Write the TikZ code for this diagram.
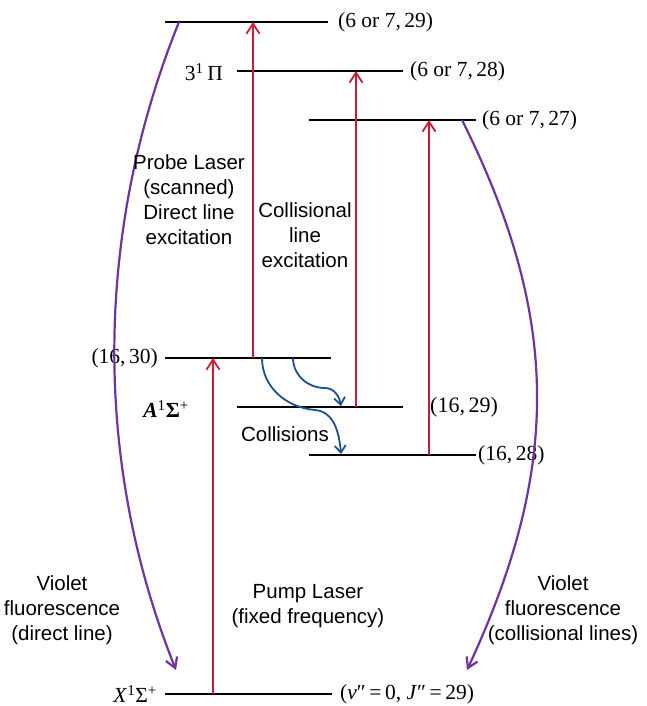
\documentclass[tikz,border=0pt]{standalone}
\usepackage{fontspec}
\setmainfont{Liberation Serif}
\setsansfont{Liberation Sans}
\usetikzlibrary{arrows.meta}
\definecolor{laser}{RGB}{200,30,45}
\definecolor{violet}{RGB}{112,50,160}
\definecolor{collblue}{RGB}{30,80,140}
\tikzset{
  level/.style={line width=1.8pt},
  thicklevel/.style={line width=2.6pt},
  laserarrow/.style={draw=laser, line width=1.8pt, -{Straight Barb[length=10pt,width=13pt,line width=1.8pt]}},
  fluor/.style={draw=violet, line width=2.2pt, -{Straight Barb[length=10pt,width=12pt,line width=2.2pt]}},
  coll/.style={draw=collblue, line width=1.8pt, -{Straight Barb[length=7pt,width=11pt,line width=1.8pt]}},
  qlabel/.style={font=\fontsize{21.5}{24}\selectfont, inner sep=0pt},
  txt/.style={font=\sffamily\fontsize{20.5}{25}\selectfont, align=center, inner sep=0pt},
}
\begin{document}
\begin{tikzpicture}[x=1pt,y=-1pt]
\useasboundingbox (0,0) rectangle (647,706);
% level end points
\coordinate (u29L) at (165,22);  \coordinate (u29R) at (328,22);
\coordinate (u28L) at (237,71);  \coordinate (u28R) at (403,71);
\coordinate (u27L) at (309,120); \coordinate (u27R) at (476,120);
\coordinate (a30L) at (165,358); \coordinate (a30R) at (331,358);
\coordinate (a29L) at (237,407); \coordinate (a29R) at (403,407);
\coordinate (a28L) at (309,455); \coordinate (a28R) at (476,455);
\coordinate (xL) at (165,694);   \coordinate (xR) at (332,694);
\draw[level] (u29L) -- (u29R);
\draw[level] (u28L) -- (u28R);
\draw[level] (u27L) -- (u27R);
\draw[level] (a30L) -- (a30R);
\draw[thicklevel] (a29L) -- (a29R);
\draw[level] (a28L) -- (a28R);
\draw[level] (xL) -- (xR);
% labels
\node[qlabel, anchor=west] (l29) at (338,22) {(6 or 7,\,29)};
\node[qlabel, anchor=west] (l28) at (410,71) {(6 or 7,\,28)};
\node[qlabel, anchor=west] (l27) at (482,120) {(6 or 7,\,27)};
\node[qlabel, anchor=east] (pi) at (223,72) {3\textsuperscript{1}\,Π};
\node[qlabel, anchor=east] (l30) at (158,358) {(16,\,30)};
\node[qlabel, anchor=east] (asig) at (189,409) {\textbf{\textit{A}}\textsuperscript{1}\textbf{Σ}\textsuperscript{+}};
\node[qlabel, anchor=west, font=\fontsize{22}{24}\selectfont] (l1629) at (430,407) {(16,\,29)};
\node[qlabel, anchor=west] (l1628) at (478,455) {(16,\,28)};
\node[qlabel, anchor=east] (xsig) at (157,694) {\textit{X}\textsuperscript{1}Σ\textsuperscript{+}};
\node[qlabel, anchor=west] (lx) at (340,694) {(\textit{v}″\,=\,0, \textit{J}″\,=\,29)};
% laser arrows
\coordinate (pumpB) at (213,694); \coordinate (pumpT) at (213,358);
\coordinate (probeB) at (253,358); \coordinate (probeT) at (253,22);
\coordinate (c1B) at (356,407); \coordinate (c1T) at (356,71);
\coordinate (c2B) at (429,455); \coordinate (c2T) at (429,120);
\draw[laserarrow] (pumpB) -- (pumpT);
\draw[laserarrow] (probeB) -- (probeT);
\draw[laserarrow] (c1B) -- (c1T);
\draw[laserarrow] (c2B) -- (c2T);
% collision arrows
\coordinate (k1S) at (262,358); \coordinate (k1M) at (315,410); \coordinate (k1E) at (341,454);
\coordinate (k2S) at (293,358); \coordinate (k2M) at (325,388); \coordinate (k2E) at (341,406);
\draw[coll] (k1S) to[out=-90,in=175] (k1M) to[out=-5,in=95] (k1E);
\draw[coll] (k2S) to[out=-90,in=180] (k2M) to[out=0,in=100] (k2E);
% fluorescence arrows
\coordinate (f1S) at (179,22); \coordinate (f1E) at (176,670);
\coordinate (f2S) at (462,120); \coordinate (f2E) at (467,670);
\draw[fluor] (f1S) .. controls (95,230) and (92,460) .. (f1E);
\draw[fluor] (f2S) .. controls (562,320) and (560,470) .. (f2E);
% texts
\node[txt] (probe) at (189,200) {Probe Laser\\(scanned)\\Direct line\\excitation};
\node[txt] (collx) at (305,235) {Collisional\\line\\excitation};
\node[txt] (colls) at (285,434) {Collisions};
\node[txt] (pump) at (308,606) {Pump Laser\\(fixed frequency)};
\node[txt] (vl) at (62,610) {Violet\\fluorescence\\(direct line)};
\node[txt] (vr) at (563,610) {Violet\\fluorescence\\(collisional lines)};
\end{tikzpicture}
\end{document}
